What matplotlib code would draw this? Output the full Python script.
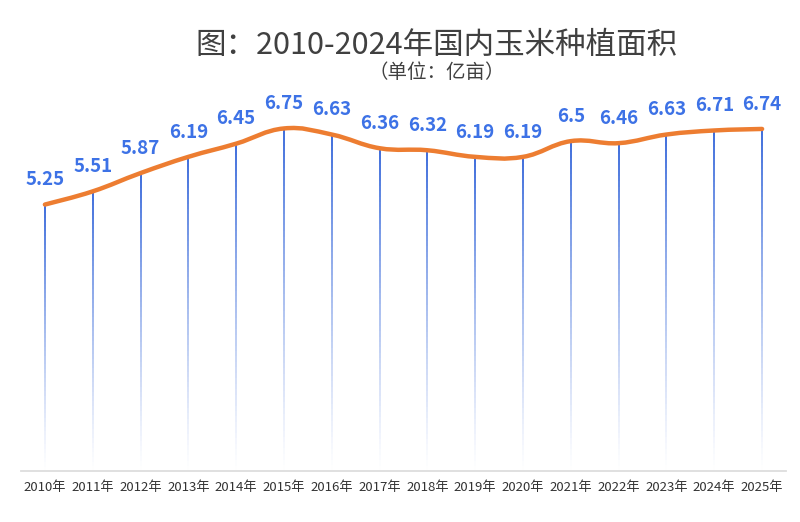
import matplotlib
matplotlib.use("Agg")
import matplotlib.pyplot as plt
import numpy as np
from matplotlib.path import Path
from matplotlib.patches import PathPatch
from matplotlib.collections import LineCollection

plt.rcParams['font.family'] = ['Noto Sans CJK SC', 'DejaVu Sans']

years = ['2010年', '2011年', '2012年', '2013年', '2014年', '2015年', '2016年', '2017年',
         '2018年', '2019年', '2020年', '2021年', '2022年', '2023年', '2024年', '2025年']
area = [5.25, 5.51, 5.87, 6.19, 6.45, 6.75, 6.63, 6.36,
        6.32, 6.19, 6.19, 6.5, 6.46, 6.63, 6.71, 6.74]

line_color = '#ED7D31'
label_color = '#3D72E6'


def smooth_path(xs, ys, k=0.2):
    # cubic bezier through the points, echarts-like smoothing
    verts = [(xs[0], ys[0])]
    codes = [Path.MOVETO]
    n = len(xs)
    for i in range(n - 1):
        p0 = (xs[i - 1], ys[i - 1]) if i > 0 else (xs[i], ys[i])
        p1 = (xs[i], ys[i])
        p2 = (xs[i + 1], ys[i + 1])
        p3 = (xs[i + 2], ys[i + 2]) if i + 2 < n else p2
        c1 = (p1[0] + (p2[0] - p0[0]) * k, p1[1] + (p2[1] - p0[1]) * k)
        c2 = (p2[0] - (p3[0] - p1[0]) * k, p2[1] - (p3[1] - p1[1]) * k)
        verts += [c1, c2, p2]
        codes += [Path.CURVE4] * 3
    return Path(verts, codes)


fig = plt.figure(figsize=(8, 5.22), dpi=100)
ax = fig.add_axes([21 / 800, 51 / 522, 765 / 800, 406 / 522])

x = np.arange(len(years))

# gradient drop lines
segs = []
cols = []
steps = 60
for xi, v in zip(x, area):
    ys = np.linspace(0, v, steps + 1)
    for j in range(steps):
        segs.append([(xi, ys[j]), (xi, ys[j + 1])])
        a = (j + 0.5) / steps
        cols.append((0.23, 0.42, 0.86, a ** 1.2))
ax.add_collection(LineCollection(segs, colors=cols, linewidths=1.4, capstyle='butt'))

ax.add_patch(PathPatch(smooth_path(x, area), facecolor='none', edgecolor=line_color,
                       lw=3.2, capstyle='round', joinstyle='round', zorder=3))

for xi, v in zip(x, area):
    ax.annotate(f'{v:g}', (xi, v), xytext=(0, 11), textcoords='offset points',
                ha='center', va='bottom', fontsize=13.5, fontweight='bold',
                color=label_color)

ax.set_xlim(-0.5, len(years) - 0.5)
ax.set_ylim(0, 8)
ax.set_xticks(x)
ax.set_xticklabels(years, fontsize=9.5, color='#333333')
ax.tick_params(axis='x', length=0, pad=7)
ax.set_yticks([])
for s in ['top', 'right', 'left']:
    ax.spines[s].set_visible(False)
ax.spines['bottom'].set_color('#DDDDDD')
ax.spines['bottom'].set_linewidth(1.3)

fig.text(437 / 800, 1 - 46 / 522, '图：2010-2024年国内玉米种植面积', ha='center', va='center',
         fontsize=22, color='#404040')
fig.text(437 / 800, 1 - 73 / 522, '（单位：亿亩）', ha='center', va='center',
         fontsize=14, color='#404040')

fig.savefig('out.png', dpi=100, facecolor='white')
